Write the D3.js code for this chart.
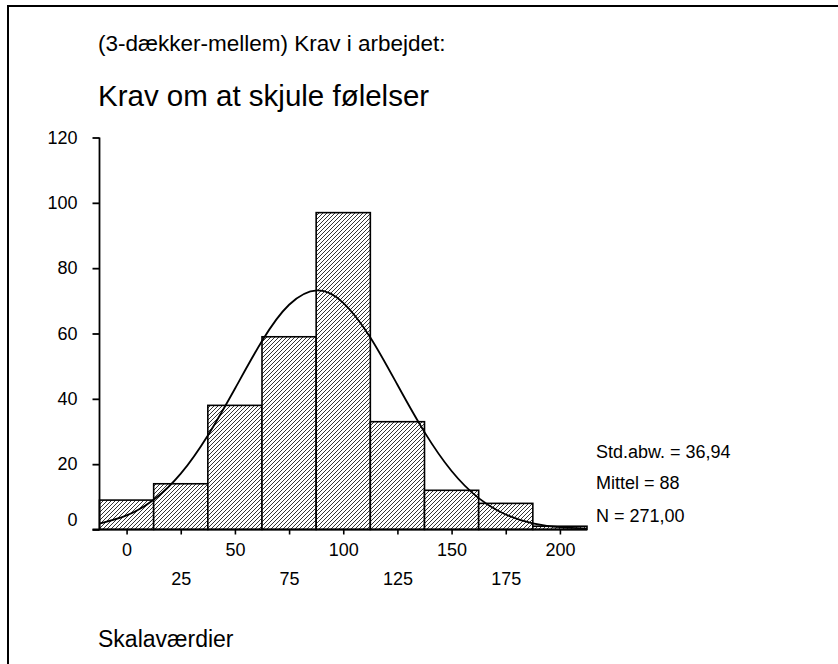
<!DOCTYPE html>
<html>
<head>
<meta charset="utf-8">
<script src="https://cdn.jsdelivr.net/npm/d3@7"></script>
<style>
  body { margin: 0; background: #fff; }
  text { font-family: "Liberation Sans", Arial, sans-serif; fill: #000; }
</style>
</head>
<body>
<div id="chart-area"></div>
<script>
// histogram: bin centres and counts
var binCenters = [0, 25, 50, 75, 100, 125, 150, 175, 200];
var counts = [9, 14, 38, 59, 97, 33, 12, 8, 1];
var binWidth = 25;

// fitted normal curve
var curveX = [-12.5, 0, 12.5, 25, 37.5, 50, 62.5, 75, 88, 100, 112.5, 125, 137.5, 150, 162.5, 175, 187.5, 200, 212.5];
var curveY = [1.8, 4.3, 9.1, 17.1, 28.8, 43.1, 57.7, 68.8, 73.2, 69.4, 58.8, 44.3, 29.8, 17.9, 9.6, 4.6, 1.9, 0.7, 0.25];

var yTicks = [0, 20, 40, 60, 80, 100, 120];
var xTicks = [0, 25, 50, 75, 100, 125, 150, 175, 200];
var statLines = ["Std.abw. = 36,94", "Mittel = 88", "N = 271,00"];

var width = 838;
var height = 664;

var svg = d3.select("#chart-area")
  .append("svg")
    .attr("width", width)
    .attr("height", height);

// frame (top and left edges)
svg.append("path")
  .attr("d", "M8," + height + "V6H" + width)
  .attr("fill", "none")
  .attr("stroke", "#000")
  .attr("stroke-width", 2);

// titles
svg.append("text")
  .attr("x", 98).attr("y", 51)
  .attr("font-size", "22.5px")
  .text("(3-dækker-mellem) Krav i arbejdet:");
svg.append("text")
  .attr("x", 98).attr("y", 106)
  .attr("font-size", "29.5px")
  .text("Krav om at skjule følelser");
svg.append("text")
  .attr("x", 98).attr("y", 647)
  .attr("font-size", "23px")
  .text("Skalaværdier");

// hatch pattern
var pat = svg.append("defs").append("pattern")
  .attr("id", "hatch")
  .attr("patternUnits", "userSpaceOnUse")
  .attr("width", 4)
  .attr("height", 4);
pat.append("rect").attr("width", 4).attr("height", 4).attr("fill", "#fff");
pat.append("path")
  .attr("d", "M-1,1l2,-2M0,4l4,-4M3,5l2,-2")
  .attr("stroke", "#000")
  .attr("stroke-width", 0.8);

var x = d3.scaleLinear()
  .domain([-12.5, 212.5])
  .range([99.5, 587]);

var y = d3.scaleLinear()
  .domain([0, 120])
  .range([529.5, 137.5]);

var g = svg.append("g");

// bars
g.selectAll("rect.bar")
  .data(counts)
  .enter()
  .append("rect")
    .attr("class", "bar")
    .attr("x", function(d, i) { return x(binCenters[i] - binWidth / 2); })
    .attr("y", function(d) { return y(d); })
    .attr("width", function(d, i) { return x(binCenters[i] + binWidth / 2) - x(binCenters[i] - binWidth / 2); })
    .attr("height", function(d) { return y(0) - y(d); })
    .attr("fill", "url(#hatch)")
    .attr("stroke", "#000")
    .attr("stroke-width", 1.6);

// normal curve
var line = d3.line()
  .x(function(d, i) { return x(curveX[i]); })
  .y(function(d) { return y(d); })
  .curve(d3.curveNatural);

g.append("path")
  .datum(curveY)
  .attr("d", line)
  .attr("fill", "none")
  .attr("stroke", "#000")
  .attr("stroke-width", 1.8);

// y axis
var leftAxis = d3.axisLeft(y)
  .tickValues(yTicks)
  .tickSize(7)
  .tickSizeOuter(0)
  .tickPadding(15);

var yAxisGroup = svg.append("g")
  .attr("transform", "translate(" + x.range()[0] + ",0)")
  .call(leftAxis);
yAxisGroup.select(".domain").remove();
yAxisGroup.selectAll("line").attr("stroke-width", 1.8);
yAxisGroup.selectAll("text")
  .attr("font-size", "18px")
  .attr("font-family", "Liberation Sans, Arial, sans-serif")
  .attr("dy", function(d) { return d === 0 ? "-0.2em" : "0.32em"; });

svg.append("line")
  .attr("x1", x.range()[0]).attr("x2", x.range()[0])
  .attr("y1", y.range()[1]).attr("y2", y.range()[0])
  .attr("stroke", "#000")
  .attr("stroke-width", 1.8);

// x axis
var bottomAxis = d3.axisBottom(x)
  .tickValues(xTicks)
  .tickSize(5)
  .tickSizeOuter(0);

var xAxisGroup = svg.append("g")
  .attr("transform", "translate(0," + y(0) + ")")
  .call(bottomAxis);
xAxisGroup.select(".domain").remove();
xAxisGroup.selectAll("line").attr("stroke-width", 1.6);
xAxisGroup.selectAll("text")
  .attr("font-size", "18px")
  .attr("font-family", "Liberation Sans, Arial, sans-serif")
  .attr("y", function(d, i) { return i % 2 === 0 ? 14 : 43; });

svg.append("line")
  .attr("x1", x.range()[0] - 7).attr("x2", x.range()[1])
  .attr("y1", y(0)).attr("y2", y(0))
  .attr("stroke", "#000")
  .attr("stroke-width", 1.8);

// statistics
var statY = [458, 488.5, 521.5];
svg.selectAll("text.stat")
  .data(statLines)
  .enter()
  .append("text")
    .attr("class", "stat")
    .attr("x", 596)
    .attr("y", function(d, i) { return statY[i]; })
    .attr("font-size", "18px")
    .text(function(d) { return d; });
</script>
</body>
</html>
